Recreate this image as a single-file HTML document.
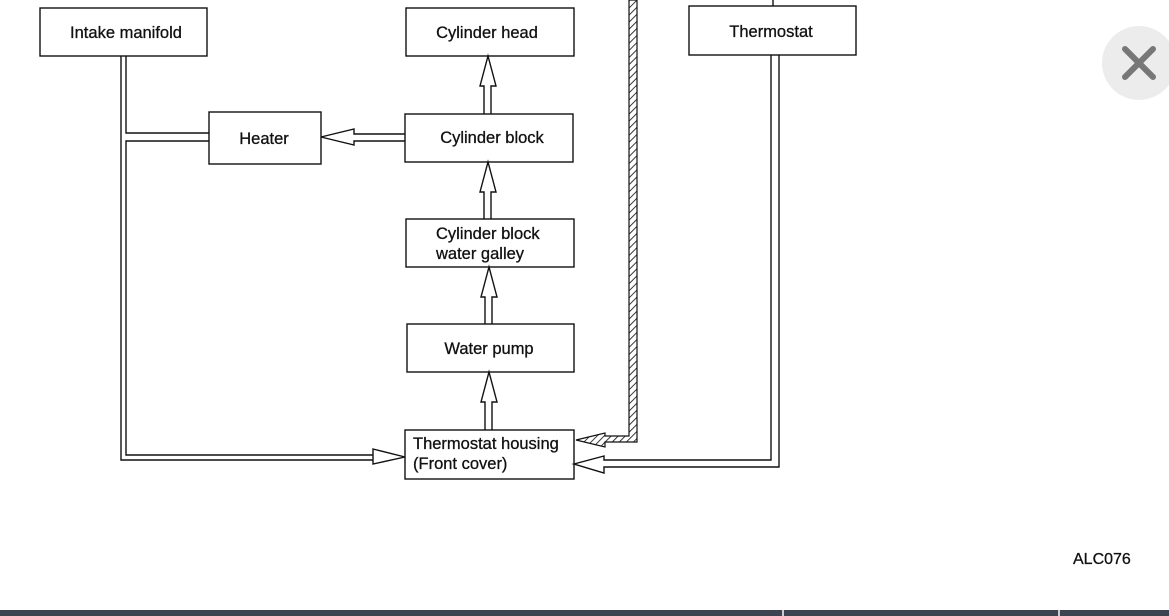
<!DOCTYPE html>
<html><head><style>
body{margin:0;width:1169px;height:616px;background:#fff;overflow:hidden;position:relative;font-family:"Liberation Sans",sans-serif}
svg{position:absolute;left:0;top:0}
</style></head><body>
<svg width="1169" height="616" viewBox="0 0 1169 616">
<defs>
<pattern id="h" width="5" height="5" patternUnits="userSpaceOnUse" patternTransform="rotate(45)">
<rect width="5" height="5" fill="#fff"/><line x1="0" y1="0" x2="0" y2="5" stroke="#222" stroke-width="1.8"/>
</pattern>
</defs>
<g fill="#fff" stroke="#111" stroke-width="1.4">
<rect x="40" y="8" width="167" height="48"/>
<rect x="406" y="8" width="168" height="48"/>
<rect x="689" y="6" width="167" height="49"/>
<rect x="209" y="112" width="112" height="52"/>
<rect x="405" y="114" width="168" height="48"/>
<rect x="406" y="219" width="168" height="48"/>
<rect x="407" y="324" width="167" height="48"/>
<rect x="405" y="430" width="169" height="49"/>
</g>
<g fill="none" stroke="#111" stroke-width="1.4">
<polyline points="121,56 121,460 373,460"/>
<polyline points="126,56 126,133 209,133"/>
<polyline points="209,141 126,141 126,455 373,455"/>
<polyline points="405,134 354,134 354,129 321,137 354,145 354,141 405,141"/>
<polyline points="484,114 484,86 480,86 488,56 496,86 491,86 491,114"/>
<polyline points="484,219 484,192 480,192 488,162 496,192 491,192 491,219"/>
<polyline points="485,324 485,297 481,297 489,267 497,297 492,297 492,324"/>
<polyline points="485,430 485,402 481,402 489,372 497,402 492,402 492,430"/>
<polyline points="779,55 779,467 604,467 604,473 574,464 604,456 604,460 771,460 771,55"/>
<line x1="773" y1="0" x2="773" y2="6"/>
</g>
<polygon points="373,449 405,457 373,464" fill="#fff" stroke="#111" stroke-width="1.4"/>
<polygon points="629,0 637,0 637,442 605,442 605,447 576,440 605,433 605,436 629,436" fill="url(#h)" stroke="#111" stroke-width="1.2"/>
<g font-size="16.5" fill="#111" font-family="Liberation Sans, sans-serif" stroke="#111" stroke-width="0.3">
<text x="126" y="38" text-anchor="middle">Intake manifold</text>
<text x="487" y="38" text-anchor="middle">Cylinder head</text>
<text x="771" y="37" text-anchor="middle">Thermostat</text>
<text x="264" y="144" text-anchor="middle">Heater</text>
<text x="492" y="143" text-anchor="middle">Cylinder block</text>
<text x="436" y="239">Cylinder block</text>
<text x="436" y="259">water galley</text>
<text x="489" y="354" text-anchor="middle">Water pump</text>
<text x="413" y="449">Thermostat housing</text>
<text x="413" y="469">(Front cover)</text>
<text x="1073" y="564" font-size="16">ALC076</text>
</g>
<circle cx="1139" cy="63" r="37" fill="#ececec"/>
<g stroke="#777" stroke-width="6" stroke-linecap="round">
<line x1="1125" y1="49" x2="1153" y2="77"/><line x1="1153" y1="49" x2="1125" y2="77"/>
</g>
<rect x="0" y="610" width="1169" height="6" fill="#3d4451"/>
<rect x="782" y="610" width="2" height="6" fill="#ccc"/>
<rect x="1058" y="610" width="2" height="6" fill="#ccc"/>
</svg>
</body></html>
